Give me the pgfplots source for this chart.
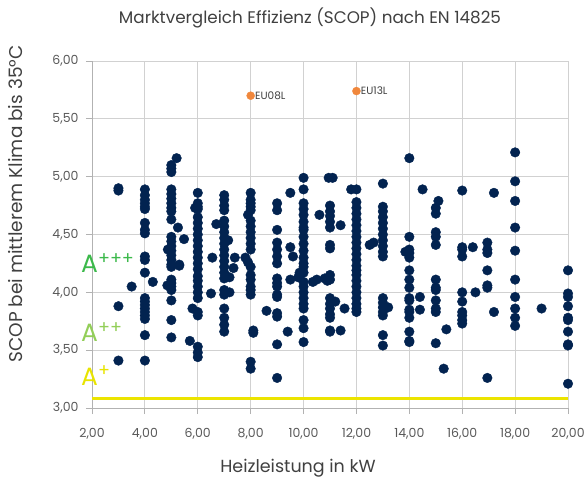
\documentclass[border=0pt]{standalone}
\usepackage{fontspec}
\setmainfont{Poppins}
\usepackage{pgfplots}
\pgfplotsset{compat=1.18}
\definecolor{navy}{RGB}{2,35,80}
\definecolor{orangept}{RGB}{240,135,60}
\definecolor{yline}{RGB}{236,228,0}
\definecolor{aaaa}{RGB}{60,185,75}
\definecolor{aaa}{RGB}{146,206,88}
\definecolor{aa}{RGB}{232,228,0}
\definecolor{txt}{RGB}{64,64,64}
\definecolor{ticktxt}{RGB}{89,89,89}
\begin{document}
\begin{tikzpicture}
\useasboundingbox (-92bp,-70bp) rectangle (495bp,408bp);
\begin{axis}[
  at={(0,0)}, anchor=south west,
  width=476bp, height=347bp, scale only axis,
  xmin=2, xmax=20, ymin=3, ymax=6,
  xtick={2,4,6,8,10,12,14,16,18,20},
  ytick={3,3.5,4,4.5,5,5.5,6},
  grid=major, major grid style={draw=black!18, line width=0.8bp},
  axis lines*=left, axis line style={draw=black!30, line width=0.8bp},
  tick align=outside, major tick length=6bp,
  tick style={draw=black!30, line width=0.8bp},
  /pgf/number format/.cd, fixed, fixed zerofill, precision=2, use comma,
  assume math mode=true, /pgfplots/.cd,
  tick label style={font=\fontsize{12.5bp}{14bp}\selectfont, text=ticktxt},
  xticklabel style={yshift=-11bp},
  yticklabel style={xshift=-4bp},
  clip=false,
]
\addplot[draw=yline, line width=3bp] coordinates {(2,3.08) (20,3.08)};
\addplot[only marks, mark=*, mark size=4.8bp, color=navy] coordinates {
(3,4.90) (3,4.88) (3,3.88) (3,3.41) (3.5,4.05)
(4,4.89) (4,4.84) (4,4.80) (4,4.77) (4,4.74) (4,4.72) (4,4.60) (4,4.54) (4,4.51)
(4,4.31) (4,4.28) (4,4.17) (4,3.95) (4,3.92) (4,3.89) (4,3.86) (4,3.83) (4,3.80)
(4,3.77) (4,3.63) (4,3.41) (4.3,4.09)
(5,5.10) (5,5.07) (5,5.04) (5,4.89) (5,4.85) (5,4.81) (5,4.77) (5,4.73) (5,4.70)
(5,4.63) (5,4.48) (5,4.44) (5,4.40) (5,4.36) (5,4.32) (5,4.28) (5,4.24) (5,4.22)
(5,4.11) (5,4.08) (5,4.05) (5,4.02) (5,3.93) (5,3.76) (5,3.61)
(5.2,5.16) (5.25,4.56) (4.87,4.37) (5.3,4.24) (5.48,4.46) (5.3,4.23) (4.85,4.06)
(6,4.86) (6,4.77) (6,4.74) (6,4.72) (6,4.65) (6,4.60) (6,4.55) (6,4.50) (6,4.45)
(6,4.40) (6,4.35) (6,4.30) (6,4.25) (6,4.20) (6,4.14) (6,4.10) (6,4.05) (6,4.00)
(6,3.95) (6,3.83) (6,3.80) (6,3.53) (6,3.48) (6,3.44)
(5.9,4.73) (5.8,3.86) (5.7,3.58) (6.5,3.99) (6.7,4.59) (6.55,4.30) (7.15,4.45)
(7,4.84) (7,4.80) (7,4.75) (7,4.71) (7,4.62) (7,4.57) (7,4.52) (7,4.47) (7,4.42)
(7,4.37) (7,4.32) (7,4.27) (7,4.22) (7,4.17) (7,4.12) (7,4.02) (7,3.98) (7,3.86)
(7,3.78) (7,3.72) (7,3.66) (7.4,4.30) (7.35,4.21) (7.2,4.13) (7.2,4.00)
(8,4.86) (8,4.80) (8,4.77) (8,4.74) (8,4.71) (8,4.62) (8,4.57) (8,4.52) (8,4.47)
(8,4.42) (8,4.37) (8,4.22) (8,4.15) (8,4.11) (8,4.05) (8,4.02) (8,3.98) (8,3.40)
(8,3.34) (7.9,4.67) (7.8,4.30) (7.9,4.26) (8.1,3.67) (8.1,3.65)
(9,4.77) (9,4.71) (9,4.54) (9,4.43) (9,4.37) (9,4.31) (9,4.25) (9,4.12) (9,4.08)
(9,4.05) (9,3.98) (9,3.96) (9,3.82) (9,3.79) (9,3.55) (9,3.26)
(8.6,3.84) (9.5,4.86) (9.5,4.39) (9.6,4.31) (9.5,4.11) (9.4,3.66) (9.8,4.13)
(10,4.99) (10,4.89) (10,4.77) (10,4.72) (10,4.67) (10,4.61) (10,4.56) (10,4.54)
(10,4.48) (10,4.42) (10,4.36) (10,4.30) (10,4.25) (10,4.22) (10,4.17) (10,4.09)
(10,4.05) (10,4.00) (10,3.95) (10,3.90) (10,3.86) (10,3.76) (10,3.69) (10,3.57)
(9.85,4.17) (10.6,4.67) (10.35,4.09) (10.5,4.11) (10.8,4.12) (10.9,4.10) (11.4,4.58)
(10.95,4.99) (11.1,4.99) (11,4.75) (11,4.70) (11,4.66) (11,4.61) (11,4.56) (11,4.41)
(11,4.38) (11,4.15) (11,4.11) (11,3.95) (11,3.90) (11,3.86) (11,3.81) (11,3.78)
(11,3.67) (11,3.66) (11.2,3.92) (11.4,3.67) (11.55,3.86)
(11.8,4.89) (12,4.89) (12,4.78) (12,4.73) (12,4.68) (12,4.63) (12,4.58) (12,4.53)
(12,4.48) (12,4.43) (12,4.38) (12,4.33) (12,4.28) (12,4.23) (12,4.19) (12,4.15)
(12,4.10) (12,4.05) (12,4.00) (12,3.95) (12,3.90) (12,3.86) (12,3.83)
(12.5,4.41) (12.65,4.43)
(13,4.94) (13,4.74) (13,4.70) (13,4.65) (13,4.60) (13,4.55) (13,4.50) (13,4.45)
(13,4.40) (13,4.35) (13,4.31) (13,3.95) (13,3.91) (13,3.87) (13,3.83) (13,3.80)
(13,3.63) (13,3.54) (13.2,3.87)
(14,5.16) (14,4.48) (14,4.37) (14,4.34) (14,4.30) (14,4.19) (14,4.11) (14,4.04)
(14,3.95) (14,3.93) (14,3.85) (14,3.83) (14,3.78) (14,3.66) (14,3.58) (14,3.57)
(13.85,4.35) (14.4,3.96) (14.4,3.85) (14.5,4.89)
(15.1,4.79) (15,4.73) (15,4.68) (15,4.52) (15,4.48) (15,4.41) (15,4.11) (15,4.04)
(15,4.02) (15,3.93) (15,3.86) (15,3.83) (15,3.56) (15.4,3.68) (15.3,3.34)
(16,4.88) (16,4.39) (16,4.37) (16,4.31) (16,4.00) (16,3.92) (16,3.83) (16,3.80)
(16,3.76) (16,3.73) (16.4,4.39) (16.5,4.00)
(16.95,4.43) (16.95,4.37) (16.95,4.34) (16.95,4.19) (16.95,4.06) (16.95,4.04)
(16.95,3.26) (17.2,4.86) (17.2,3.83)
(18,5.21) (18,4.96) (18,4.79) (18,4.56) (18,4.36) (18,4.11) (18,3.96) (18,3.86)
(18,3.78) (18,3.71) (19,3.86)
(20,4.19) (20,3.99) (20,3.96) (20,3.88) (20,3.78) (20,3.76) (20,3.66) (20,3.55)
(20,3.54) (20,3.21)
};
\addplot[only marks, mark=*, mark size=4bp, color=orangept,
  nodes near coords, point meta=explicit symbolic,
  nodes near coords style={anchor=west, xshift=1bp, text=txt,
    font=\fontsize{10.5bp}{12bp}\selectfont}]
  coordinates {(8,5.70)[EU08L] (12,5.74)[EU13L]};
\end{axis}
\node[text=txt, font=\fontsize{16.8bp}{19bp}\selectfont] at (218bp,390bp)
  {Marktvergleich Effizienz (SCOP) nach EN 14825};
\node[text=txt, font=\fontsize{17.5bp}{20bp}\selectfont] at (206bp,-60bp)
  {Heizleistung in kW};
\node[text=txt, rotate=90, font=\fontsize{18.5bp}{21bp}\selectfont] at (-76bp,204bp)
  {SCOP bei mittlerem Klima bis 35°C};
\node[anchor=base west, inner sep=0pt, text=aaaa, font=\fontsize{25bp}{27bp}\selectfont]
  at (-11bp,135bp) {A\textsuperscript{+++}};
\node[anchor=base west, inner sep=0pt, text=aaa, font=\fontsize{25bp}{27bp}\selectfont]
  at (-11bp,66bp) {A\textsuperscript{++}};
\node[anchor=base west, inner sep=0pt, text=aa, font=\fontsize{25bp}{27bp}\selectfont]
  at (-11bp,23bp) {A\textsuperscript{+}};
\end{tikzpicture}
\end{document}
